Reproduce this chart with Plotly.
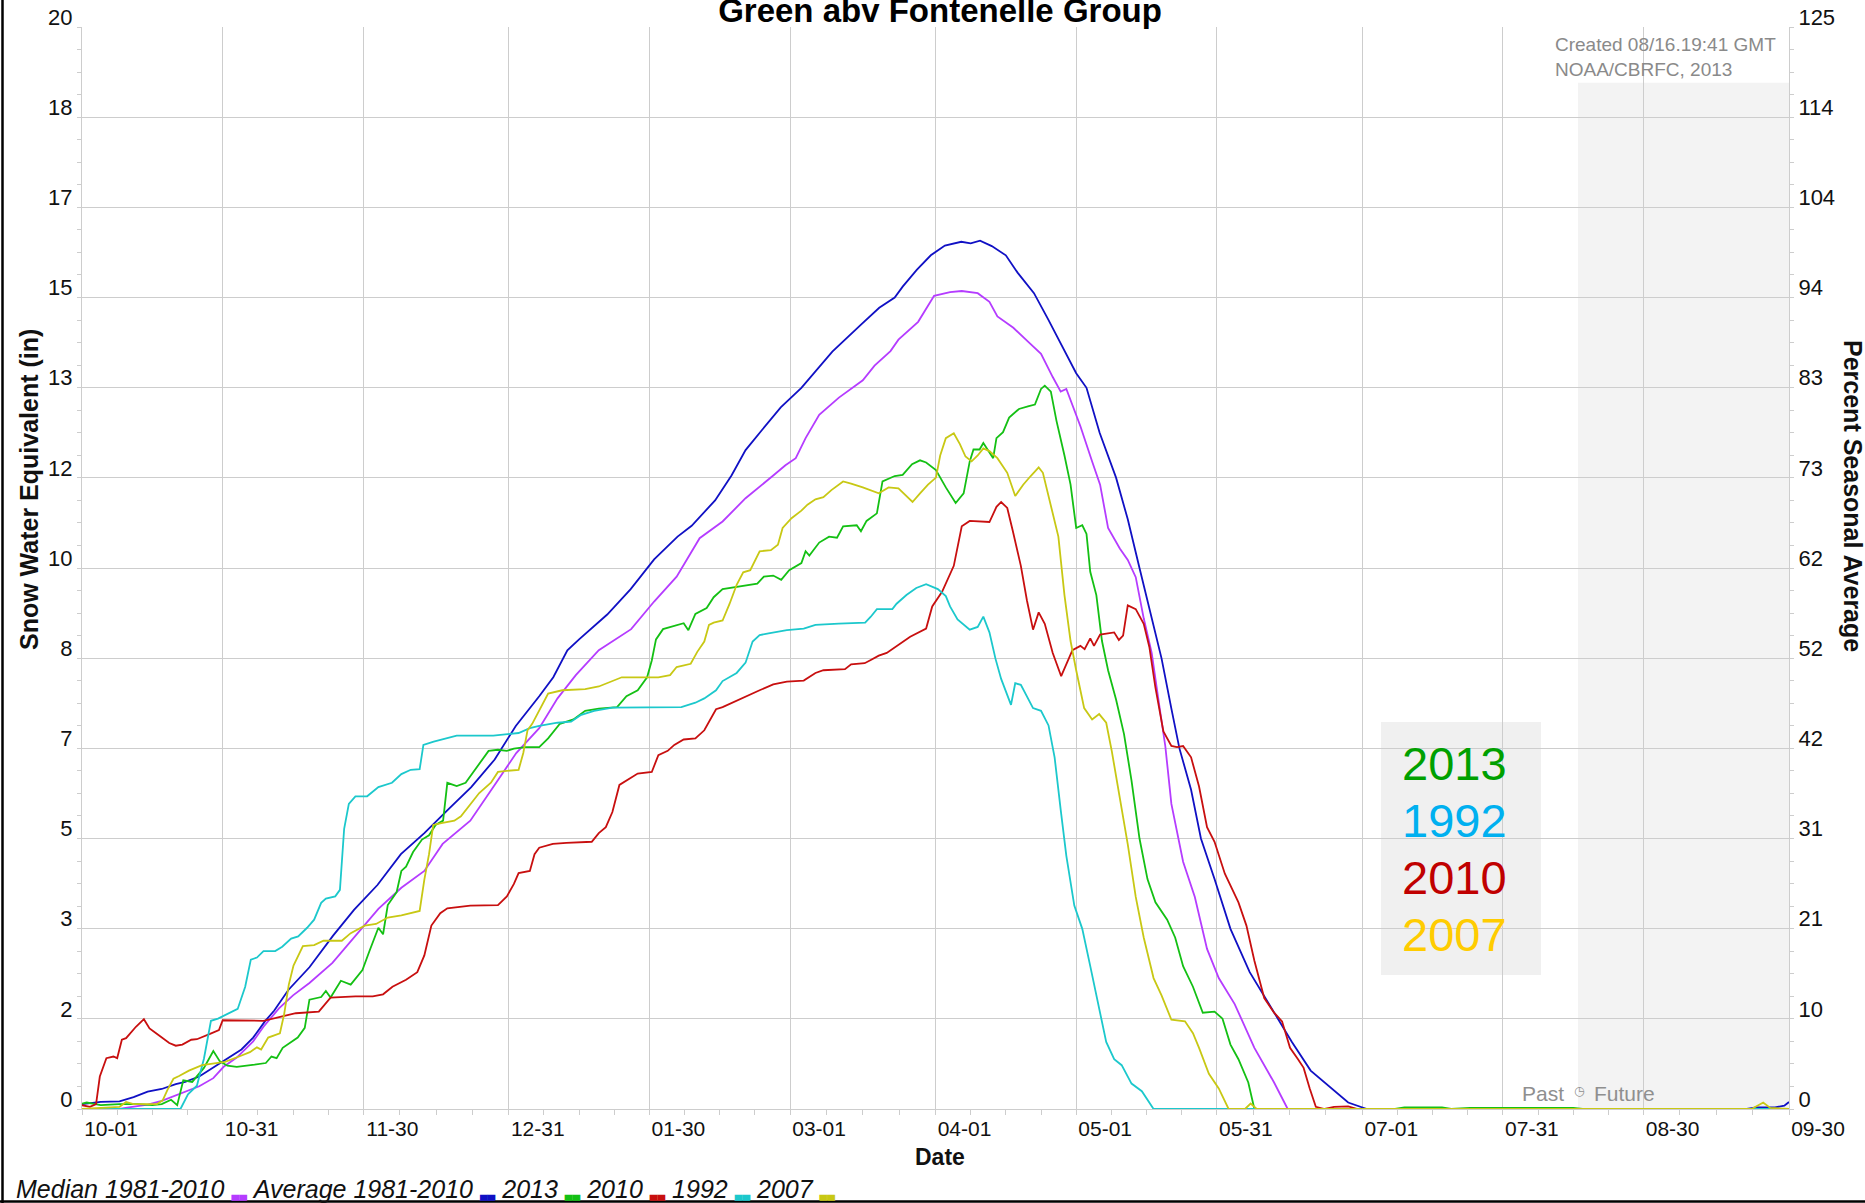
import pandas as pd
import plotly.graph_objects as go

# ---------------- data (day of water year since 2012-10-01, SWE inches) ----------------
START = "2012-10-01"

median_1981_2010 = [(0,0.0),(8,0.0),(10,0.03),(14,0.08),(17,0.15),(19.5,0.23),(22.3,0.32),(25,0.42),(28,0.57),(30.2,0.78),(33,0.95),(36.5,1.25),(38.7,1.52),(42,1.86),(45,2.10),(48.5,2.33),(53.4,2.70),(58.3,3.20),(63.2,3.70),(68.1,4.09),(73,4.40),(76.9,4.90),(82.8,5.33),(87.7,5.95),(92.6,6.58),(97.5,7.04),(101.4,7.59),(105.3,8.02),(110.2,8.48),(117.1,8.87),(122,9.38),(126.8,9.84),(131.7,10.55),(136.6,10.86),(141.5,11.29),(147.4,11.71),(150,11.9),(152.2,12.03),(154.3,12.40),(157.2,12.83),(161.4,13.15),(166.5,13.47),(169,13.74),(172.4,14.01),(174.1,14.22),(178.3,14.55),(181.7,15.03),(185.1,15.10),(187.6,15.12),(191,15.08),(193.5,14.92),(195.2,14.65),(198.6,14.44),(201.9,14.17),(204.5,13.96),(207,13.53),(208.7,13.26),(209.9,13.31),(212.9,12.62),(215.4,11.97),(217.1,11.54),(218.8,10.74),(221.3,10.36),(223,10.15),(224.7,9.83),(226.4,9.07),(228.1,8.43),(229.7,7.47),(231,6.71),(232.3,5.64),(234.8,4.57),(237.3,3.92),(239.9,2.96),(242.4,2.42),(245.8,1.94),(250,1.13),(254.2,0.49),(257.1,0.0),(364,0.0)]

average_1981_2010 = [(0,0.09),(4,0.13),(8,0.14),(11,0.22),(14,0.32),(17,0.37),(20,0.46),(22,0.50),(25,0.60),(29,0.82),(31,0.94),(34,1.10),(36.5,1.32),(39,1.62),(41,1.82),(44,2.2),(48.5,2.62),(53.5,3.2),(58,3.68),(63,4.14),(68,4.71),(73,5.10),(78,5.53),(83,5.95),(88,6.46),(92.5,7.08),(97.5,7.63),(100.5,7.98),(103.5,8.48),(106,8.68),(112,9.14),(117,9.61),(122,10.16),(127,10.58),(130,10.78),(135,11.25),(138.5,11.71),(141.5,12.18),(145,12.55),(149,12.97),(153.4,13.33),(156,13.6),(160,14.0),(166,14.49),(170,14.81),(173.3,15.0),(175,15.2),(178,15.51),(181,15.78),(184,15.96),(187.5,16.03),(189.5,16.0),(191.5,16.05),(194,15.95),(197,15.78),(199.5,15.46),(203,15.08),(206,14.6),(209.5,14.01),(212,13.6),(214.2,13.33),(217,12.5),(220.5,11.67),(223,10.9),(225.5,10.0),(228,9.1),(230.2,8.33),(232.3,7.4),(234,6.67),(236.5,5.9),(238.6,5.0),(241.5,4.25),(244.9,3.33),(249,2.53),(255,1.67),(258,1.24),(262,0.71),(267,0.33),(270,0.12),(274,0.0),(355,0.0),(357,0.03),(361,0.03),(363,0.06),(364,0.13)]

swe_2013 = [(0,0.10),(1,0.12),(4,0.07),(8,0.09),(12,0.09),(15,0.07),(17,0.09),(19,0.17),(20.3,0.07),(21.6,0.53),(23.5,0.50),(26,0.76),(28,1.07),(29.4,0.88),(31,0.80),(33,0.78),(36.8,0.82),(39.2,0.85),(40.4,0.97),(41.5,0.94),(42.8,1.13),(46,1.32),(47.5,1.50),(48.5,2.02),(51,2.07),(52,2.18),(53,2.06),(55.2,2.37),(57.3,2.30),(59.8,2.57),(61.3,2.92),(63.2,3.35),(64.2,3.23),(65.2,3.77),(67.1,4.01),(68.1,4.40),(69.1,4.48),(70.6,4.75),(72.5,4.98),(74,5.06),(75.4,5.25),(77,5.33),(77.9,6.03),(79.9,5.97),(81.8,6.03),(83.8,6.27),(85.2,6.46),(86.7,6.62),(88.7,6.64),(90.6,6.62),(92.1,6.66),(94.5,6.69),(97.5,6.69),(99.4,6.85),(101.9,7.12),(104.8,7.20),(107.3,7.36),(110.2,7.40),(114.1,7.43),(116.1,7.63),(118.5,7.74),(120.5,7.98),(121.5,8.29),(122.4,8.68),(123.9,8.87),(126.8,8.95),(128.3,8.98),(129.3,8.85),(130.8,9.15),(133.2,9.26),(134.7,9.46),(136.6,9.61),(140.5,9.67),(144,9.71),(145.4,9.84),(147.4,9.86),(149.1,9.78),(150.8,9.96),(153.4,10.09),(154.3,10.31),(155.1,10.23),(157.2,10.47),(159.3,10.58),(161,10.56),(162.3,10.77),(165.2,10.79),(166.1,10.68),(167.3,10.87),(169.5,11.01),(170.7,11.60),(173.3,11.70),(175,11.72),(177,11.92),(178.7,11.99),(180,11.95),(182.1,11.81),(184.2,11.49),(186.3,11.20),(188,11.38),(189.3,11.97),(190.1,12.19),(191.4,12.19),(192.2,12.31),(193.2,12.17),(194.3,12.03),(195,12.40),(196.4,12.51),(197.7,12.78),(199.8,12.94),(201.9,12.99),(203.2,13.02),(204.5,13.31),(205.3,13.37),(206.6,13.26),(207.8,12.72),(209.5,12.08),(210.8,11.54),(212,10.74),(213.3,10.79),(214.2,10.63),(215,9.93),(216.3,9.50),(217.5,8.65),(218.8,8.11),(220.5,7.57),(222.2,6.93),(223.8,6.07),(225.5,5.0),(227.2,4.25),(228.9,3.82),(231.4,3.50),(233.1,3.17),(234.8,2.64),(236.9,2.26),(239,1.78),(241.5,1.80),(243.2,1.67),(244.9,1.19),(246.6,0.92),(248.7,0.49),(250,0.0),(280,0.0),(282,0.03),(290,0.03),(292,0.0),(296,0.02),(300,0.02),(305,0.03),(310,0.02),(318,0.02),(320,0.0),(364,0.0)]

swe_2010 = [(0,0.07),(1.7,0.04),(3,0.09),(3.8,0.60),(5.2,0.94),(6.7,0.97),(7.5,0.94),(8.5,1.28),(9.4,1.31),(11.5,1.52),(13.2,1.66),(14.4,1.49),(15.8,1.40),(17.2,1.31),(18.6,1.22),(20,1.17),(21.4,1.19),(23.3,1.28),(24.5,1.29),(27.3,1.39),(29.2,1.46),(30,1.64),(38.7,1.63),(42.7,1.71),(45.6,1.77),(50.5,1.80),(51.5,1.91),(53,2.06),(58.3,2.08),(62,2.08),(64.2,2.12),(66.2,2.26),(69.1,2.39),(71.5,2.53),(73,2.84),(74.5,3.39),(76.4,3.62),(77.9,3.71),(82.8,3.76),(88.7,3.77),(90.6,3.93),(92.1,4.16),(93.1,4.36),(95.5,4.40),(96.5,4.71),(97.5,4.83),(100.4,4.90),(103.3,4.92),(108.7,4.94),(110.2,5.10),(111.7,5.21),(113.1,5.49),(114.6,5.99),(116.1,6.07),(118.5,6.20),(121.5,6.23),(122.9,6.54),(124.9,6.62),(126.3,6.73),(128.3,6.83),(130.8,6.85),(132.7,7.0),(135.2,7.39),(136.6,7.43),(138.6,7.51),(141.5,7.63),(144.5,7.74),(147.4,7.85),(150.3,7.90),(153.9,7.92),(156.4,8.06),(158.1,8.11),(162.7,8.13),(164,8.22),(166.9,8.24),(168.2,8.30),(169.9,8.38),(171.6,8.43),(173.7,8.56),(176.6,8.73),(180,8.88),(181.3,9.29),(183.4,9.56),(185.9,10.04),(187.6,10.77),(189.3,10.87),(193.5,10.85),(195,11.13),(196,11.22),(197.3,11.11),(198.5,10.68),(200.2,10.04),(201.5,9.40),(202.8,8.86),(204,9.18),(205.3,8.97),(207,8.43),(208.8,8.0),(211.2,8.48),(212.9,8.56),(213.8,8.50),(215,8.70),(215.8,8.56),(217.1,8.77),(220.1,8.81),(221.1,8.67),(222,8.75),(223,9.31),(224.7,9.24),(226.4,8.97),(227.6,8.54),(228.9,7.79),(230.6,6.98),(232.3,6.71),(233.5,6.69),(234.8,6.71),(236.5,6.50),(238.2,5.96),(239.9,5.21),(241.5,4.94),(243.7,4.35),(246.6,3.82),(248.3,3.39),(250,2.74),(252.1,2.05),(254.2,1.78),(255.9,1.62),(257.6,1.13),(259.3,0.92),(260.5,0.76),(261.8,0.38),(263.1,0.04),(265,0.0),(267,0.04),(270,0.05),(272,0.0),(364,0.0)]

swe_1992 = [(0,0.0),(21,0.0),(22.6,0.27),(24.5,0.43),(26,0.93),(27.5,1.63),(29,1.67),(30.9,1.75),(33.2,1.85),(34.8,2.26),(36,2.76),(37.3,2.80),(38.7,2.92),(41.2,2.92),(42.7,3.0),(44.6,3.15),(46.1,3.19),(48,3.35),(49.5,3.50),(51,3.81),(52,3.89),(54,3.93),(55,4.05),(55.9,5.18),(56.9,5.64),(58.3,5.78),(60.8,5.78),(63.2,5.95),(66.1,6.03),(68.1,6.19),(70.1,6.27),(72,6.28),(72.8,6.73),(75,6.79),(77.9,6.85),(79.9,6.90),(87.7,6.90),(93.1,6.95),(95.5,7.04),(97.5,7.08),(101.4,7.14),(104.3,7.16),(106.3,7.28),(109.2,7.36),(113.1,7.42),(127.8,7.43),(130.8,7.51),(132.7,7.59),(135.2,7.74),(136.6,7.91),(139.6,8.06),(141.5,8.25),(143,8.64),(144.5,8.76),(146.4,8.79),(150.3,8.85),(153.9,8.88),(156.4,8.95),(161.4,8.97),(167,8.99),(168.2,9.10),(169.5,9.24),(172.8,9.24),(173.7,9.34),(175.8,9.50),(177.9,9.63),(180,9.70),(182.5,9.61),(184.2,9.48),(185.1,9.29),(186.7,9.05),(189.3,8.86),(191,8.91),(192.2,9.10),(193.5,8.81),(194.8,8.32),(196,7.95),(198.1,7.47),(199,7.87),(200.2,7.84),(202.8,7.41),(204.5,7.36),(206.1,7.09),(207.4,6.50),(208.7,5.53),(209.9,4.68),(211.6,3.76),(213.3,3.33),(215,2.64),(216.7,1.94),(218.4,1.24),(220.1,0.92),(221.7,0.81),(223.8,0.47),(226,0.33),(228.5,0.0),(364,0.0)]

swe_2007 = [(0,0.0),(6,0.02),(8,0.04),(9.4,0.13),(11,0.09),(16,0.09),(17.2,0.16),(18.2,0.35),(19.5,0.56),(20.7,0.61),(22.8,0.71),(25.6,0.81),(28.4,0.85),(30.5,0.87),(33.5,0.97),(35.8,1.05),(37.3,1.14),(38.2,1.10),(39.7,1.32),(42.2,1.40),(43.1,1.75),(44.1,2.30),(45.1,2.65),(47.1,3.01),(49.5,3.03),(51.5,3.11),(55.4,3.11),(57.3,3.25),(60.3,3.39),(62.7,3.42),(65.2,3.54),(68.1,3.58),(72,3.66),(73,4.24),(74,4.71),(74.9,5.25),(76.9,5.29),(79.4,5.33),(80.8,5.41),(82.8,5.64),(84.7,5.84),(87.2,6.03),(88.7,6.23),(90.6,6.25),(93.1,6.27),(94.1,6.58),(95,7.0),(96,7.12),(97.5,7.36),(99.4,7.68),(102.4,7.74),(107.3,7.76),(110.2,7.81),(112.2,7.88),(114.1,7.94),(115.1,7.98),(122.9,7.98),(125.4,8.02),(126.8,8.17),(129.8,8.23),(131.2,8.45),(132.7,8.64),(133.7,8.95),(134.7,8.99),(136.6,9.03),(138.1,9.34),(139.6,9.69),(141,9.92),(142.5,9.96),(144.5,10.31),(146.9,10.33),(148.4,10.43),(149.4,10.74),(151.3,10.92),(153.4,11.06),(154.7,11.17),(156.4,11.27),(158.1,11.31),(159.8,11.44),(162.3,11.60),(164,11.56),(166.5,11.49),(169.9,11.38),(172,11.49),(174.1,11.47),(175.8,11.33),(177.1,11.22),(178.7,11.38),(180.4,11.54),(182.1,11.67),(183,12.08),(184.2,12.40),(185.9,12.49),(187.2,12.29),(188.4,12.06),(189.7,11.97),(191,12.08),(192.2,12.21),(193.5,12.16),(195.2,12.03),(197.3,11.76),(199,11.33),(200.7,11.54),(202.3,11.70),(204,11.86),(204.9,11.76),(207,11.01),(208.2,10.58),(209.5,9.50),(210.8,8.65),(212,8.11),(213.7,7.41),(215.4,7.20),(216.9,7.30),(218.4,7.14),(219.6,6.61),(221.3,5.75),(223,4.89),(224.7,3.92),(226.4,3.17),(228.5,2.42),(230.2,2.10),(232.3,1.65),(235.2,1.62),(236.9,1.40),(238.2,1.13),(240.3,0.65),(242.4,0.38),(244.5,0.0),(248,0.0),(249.2,0.1),(250.5,0.0),(356,0.0),(358.5,0.12),(360,0.02),(364,0.0)]

series_names = ["Median 1981-2010", "Average 1981-2010", "2013", "2010", "1992", "2007"]
series_data = [median_1981_2010, average_1981_2010, swe_2013, swe_2010, swe_1992, swe_2007]
series_colors = ["#b53cff", "#1010c4", "#14c014", "#c80f0f", "#1cc8cc", "#c8c814"]

tick_dates = ["2012-10-01", "2012-10-31", "2012-11-30", "2012-12-31", "2013-01-30", "2013-03-01",
              "2013-04-01", "2013-05-01", "2013-05-31", "2013-07-01", "2013-07-31", "2013-08-30", "2013-09-30"]
tick_text = ["10-01", "10-31", "11-30", "12-31", "01-30", "03-01", "04-01", "05-01", "05-31",
             "07-01", "07-31", "08-30", "09-30"]

y_ticktext = ["0", "2", "3", "5", "7", "8", "10", "12", "13", "15", "17", "18", "20"]
y2_ticktext = ["0", "10", "21", "31", "42", "52", "62", "73", "83", "94", "104", "114", "125"]

inset_years = ["2013", "1992", "2010", "2007"]
inset_colors = ["#00a000", "#00b0f0", "#c00000", "#ffcc00"]

created_lines = ["Created 08/16.19:41 GMT", "NOAA/CBRFC, 2013"]
now_date = "2013-08-16"
end_date = "2013-09-30"

# ---------------- figure ----------------
W, H = 1865, 1203
L, R, T, B = 82, 76, 27, 94
PW, PH = W - L - R, H - T - B


def px_x(px):
    return (px - L) / PW


def px_y(py):
    return (H - B - py) / PH


start = pd.Timestamp(START)
fig = go.Figure()

for name, pts, col in zip(series_names, series_data, series_colors):
    xs = [start + pd.Timedelta(days=d) for d, _ in pts]
    ys = [v for _, v in pts]
    fig.add_trace(go.Scatter(x=xs, y=ys, mode="lines", name=name,
                             line=dict(color=col, width=1.8), showlegend=False))

# invisible trace to activate right axis
fig.add_trace(go.Scatter(x=[start], y=[0], yaxis="y2", mode="markers",
                         marker=dict(opacity=0), showlegend=False, hoverinfo="skip"))

tickdt = pd.to_datetime(tick_dates)
minor_vals = []
for a, b in zip(tickdt[:-1], tickdt[1:]):
    for k in (1, 2, 3):
        minor_vals.append(a + (b - a) * k / 4)

ymaj = [i * 20 / 12 for i in range(13)]
ymin = [i * 20 / 48 for i in range(49) if i % 4]
y2maj = [i * 125 / 12 for i in range(13)]
y2min = [i * 125 / 48 for i in range(49) if i % 4]

GRID = "#cdcdcd"
tickfont = dict(family="Liberation Sans", size=22, color="#111111")

fig.update_layout(
    width=W, height=H,
    margin=dict(l=L, r=R, t=T, b=B, autoexpand=False),
    paper_bgcolor="white", plot_bgcolor="white",
    showlegend=False,
    title=dict(text="<b>Green abv Fontenelle Group</b>", x=px_x(940), xref="paper", xanchor="center",
               y=1 - 10 / H, yref="container", yanchor="middle",
               font=dict(family="Liberation Sans", size=33, color="black")),
    xaxis=dict(type="date", range=[start, pd.Timestamp(end_date)],
               tickmode="array", tickvals=tickdt, ticktext=tick_text,
               ticks="outside", ticklen=5, tickcolor=GRID, tickwidth=1,
               ticklabelshift=29, ticklabelstandoff=-4,
               showgrid=True, gridcolor=GRID, gridwidth=1,
               showline=True, linecolor=GRID, linewidth=1, zeroline=False,
               tickfont=dict(family="Liberation Sans", size=21, color="#111111"),
               minor=dict(tickmode="array", tickvals=minor_vals, ticks="outside", ticklen=5,
                          tickcolor=GRID, showgrid=False)),
    yaxis=dict(range=[0, 20], tickmode="array", tickvals=ymaj, ticktext=y_ticktext,
               ticks="outside", ticklen=4, tickcolor=GRID, ticklabelshift=-10, ticklabelstandoff=0,
               showgrid=True, gridcolor=GRID, gridwidth=1, zeroline=False,
               showline=True, linecolor=GRID, linewidth=1, tickfont=tickfont,
               minor=dict(tickmode="array", tickvals=ymin, ticks="outside", ticklen=4,
                          tickcolor=GRID, showgrid=False)),
    yaxis2=dict(range=[0, 125], overlaying="y", side="right", tickmode="array",
                tickvals=y2maj, ticktext=y2_ticktext, ticks="outside", ticklen=4, tickcolor=GRID,
                ticklabelshift=-10, ticklabelstandoff=0,
                showgrid=False, zeroline=False, showline=True, linecolor=GRID, linewidth=1,
                tickfont=tickfont,
                minor=dict(tickmode="array", tickvals=y2min, ticks="outside", ticklen=4,
                           tickcolor=GRID, showgrid=False)),
)

# past / future shading
fig.add_shape(type="rect", xref="x", yref="y", x0=pd.Timestamp(now_date), x1=pd.Timestamp(end_date),
              y0=0, y1=18.97, fillcolor="#f3f3f3", line=dict(width=0), layer="below")

# inset year box
fig.add_shape(type="rect", xref="paper", yref="paper", x0=px_x(1381), x1=px_x(1541),
              y0=px_y(975), y1=px_y(722), fillcolor="#f0f0f0", line=dict(width=0), layer="between")
for i, (yr, col) in enumerate(zip(inset_years, inset_colors)):
    fig.add_annotation(text=yr, xref="paper", yref="paper", x=px_x(1454), y=px_y(763 + i * 57),
                       xanchor="center", yanchor="middle", showarrow=False,
                       font=dict(family="Liberation Sans", size=47, color=col))

# image frame (left and bottom)
fig.add_shape(type="line", xref="paper", yref="paper", x0=px_x(2.5), x1=px_x(2.5), y0=px_y(0), y1=px_y(H),
              line=dict(color="black", width=2.5))
fig.add_shape(type="line", xref="paper", yref="paper", x0=px_x(0), x1=px_x(W), y0=px_y(1201.5), y1=px_y(1201.5),
              line=dict(color="black", width=2.5))

# axis titles
fig.add_annotation(text="<b>Snow Water Equivalent (in)</b>", xref="paper", yref="paper",
                   x=px_x(29), y=px_y(490), textangle=-90, showarrow=False,
                   xanchor="center", yanchor="middle",
                   font=dict(family="Liberation Sans", size=25, color="#111111"))
fig.add_annotation(text="<b>Percent Seasonal Average</b>", xref="paper", yref="paper",
                   x=px_x(1853), y=px_y(496), textangle=90, showarrow=False,
                   xanchor="center", yanchor="middle",
                   font=dict(family="Liberation Sans", size=25, color="#111111"))
fig.add_annotation(text="<b>Date</b>", xref="paper", yref="paper", x=px_x(940), y=px_y(1157),
                   showarrow=False, xanchor="center", yanchor="middle",
                   font=dict(family="Liberation Sans", size=23, color="#111111"))

# created note
for i, line in enumerate(created_lines):
    fig.add_annotation(text=line, xref="paper", yref="paper", x=px_x(1553), y=px_y(45 + i * 25),
                       xanchor="left", yanchor="middle", showarrow=False,
                       font=dict(family="Liberation Sans", size=19, color="#8a8a8a"))

# past / future marker
fig.add_annotation(text="Past", xref="x", yref="paper", x=pd.Timestamp(now_date), xshift=-12,
                   y=px_y(1093), xanchor="right", yanchor="middle", showarrow=False,
                   font=dict(family="Liberation Sans", size=21, color="#8f8f8f"))
fig.add_annotation(text="◷", xref="x", yref="paper", x=pd.Timestamp(now_date), xshift=2,
                   y=px_y(1091), xanchor="center", yanchor="middle", showarrow=False,
                   font=dict(family="DejaVu Sans", size=12, color="#8f8f8f"))
fig.add_annotation(text="Future", xref="x", yref="paper", x=pd.Timestamp(now_date), xshift=14,
                   y=px_y(1093), xanchor="left", yanchor="middle", showarrow=False,
                   font=dict(family="Liberation Sans", size=21, color="#8f8f8f"))

# bottom legend (label followed by colour swatch)
parts = []
for name, col in zip(series_names, series_colors):
    parts.append(f"<i>{name}</i> <span style='color:{col};font-family:DejaVu Sans;font-size:10px'>▄▄</span>")
fig.add_annotation(text=" ".join(parts), xref="paper", yref="paper", x=px_x(14), y=px_y(1189),
                   xanchor="left", yanchor="middle", showarrow=False, align="left",
                   font=dict(family="Liberation Sans", size=25, color="#111111"))

fig.write_html("out.html", config={"displayModeBar": False},
               post_script="document.body.style.margin='0';document.body.style.overflow='hidden';")
